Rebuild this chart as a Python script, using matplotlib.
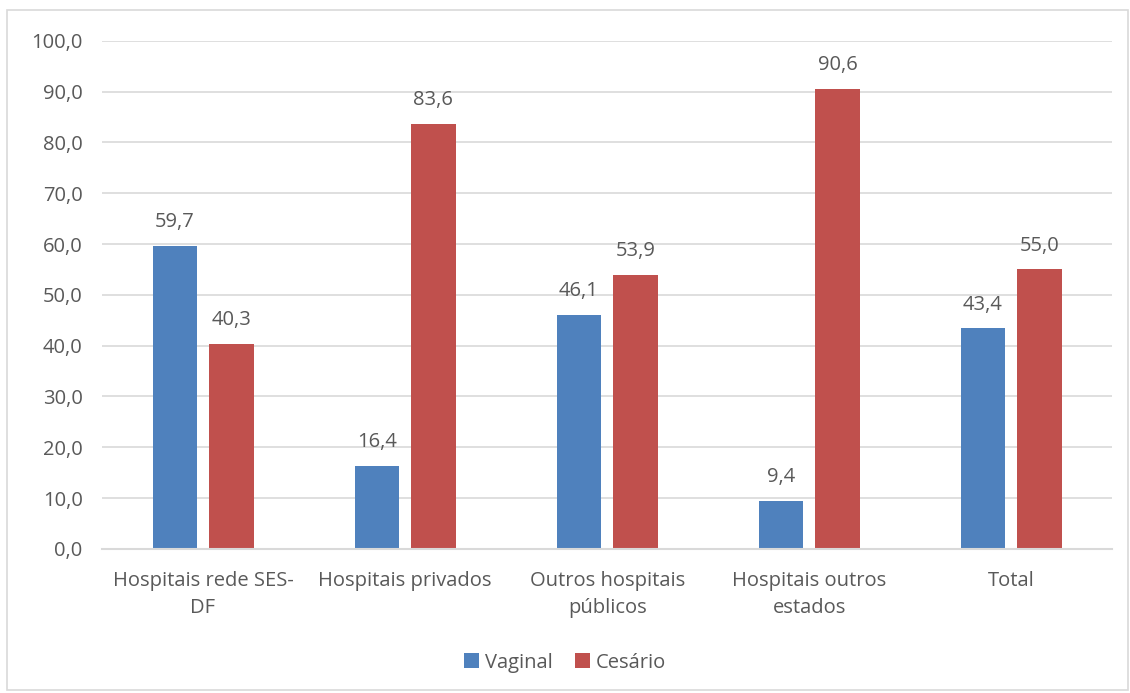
import matplotlib
matplotlib.use("Agg")
import matplotlib.pyplot as plt
from matplotlib.patches import Rectangle
import numpy as np

categories = ["Hospitais rede SES-\nDF", "Hospitais privados", "Outros hospitais\npúblicos",
              "Hospitais outros\nestados", "Total"]
vaginal = [59.7, 16.4, 46.1, 9.4, 43.4]
cesario = [40.3, 83.6, 53.9, 90.6, 55.0]
yticks = [0, 10, 20, 30, 40, 50, 60, 70, 80, 90, 100]

plt.rcParams['font.family'] = ['Open Sans', 'DejaVu Sans']
txt = "#595959"
fs = 14.5

fig = plt.figure(figsize=(11.3, 6.93), dpi=100)
ax = fig.add_axes([0.0903, 0.208, 0.894, 0.733])

x = np.arange(len(categories))
w = 0.22
gap = 0.06
off = (w + gap) / 2
b1 = ax.bar(x - off, vaginal, w, color="#4F81BD", label="Vaginal", zorder=3)
b2 = ax.bar(x + off, cesario, w, color="#C0504D", label="Cesário", zorder=3)

def fmt(v):
    return f"{v:.1f}".replace(".", ",")

for bars, vals in ((b1, vaginal), (b2, cesario)):
    for r, v in zip(bars, vals):
        ax.annotate(fmt(v), (r.get_x() + r.get_width() / 2, v), xytext=(0, 10),
                    textcoords="offset points", ha="center", va="bottom",
                    fontsize=fs, color=txt)

ax.set_ylim(0, 100)
ax.set_xlim(-0.5, len(categories) - 0.5)
ax.set_yticks(yticks)
ax.set_yticklabels([fmt(v) for v in yticks], fontsize=fs, color=txt)
ax.set_xticks(x)
ax.set_xticklabels(categories, fontsize=fs, color=txt, linespacing=1.45)
ax.tick_params(axis="y", length=0, pad=14)
ax.tick_params(axis="x", length=0, pad=16)
ax.grid(axis="y", color="#D9D9D9", linewidth=1.2, zorder=0)
for s in ("top", "right", "left"):
    ax.spines[s].set_visible(False)
ax.spines["bottom"].set_color("#D9D9D9")
ax.spines["bottom"].set_linewidth(1.5)
ax.spines["bottom"].set_zorder(4)

leg = fig.legend(handles=[b1, b2], loc="center", bbox_to_anchor=(0.5, 0.044), ncol=2,
                 frameon=False, fontsize=fs, handlelength=0.75, handleheight=0.75,
                 handletextpad=0.3, columnspacing=1.1)
for t in leg.get_texts():
    t.set_color(txt)

fig.patches.append(Rectangle((0.006, 0.004), 0.992, 0.982, transform=fig.transFigure,
                             fill=False, edgecolor="#D9D9D9", linewidth=1.2))

fig.savefig("out.png", dpi=100)
